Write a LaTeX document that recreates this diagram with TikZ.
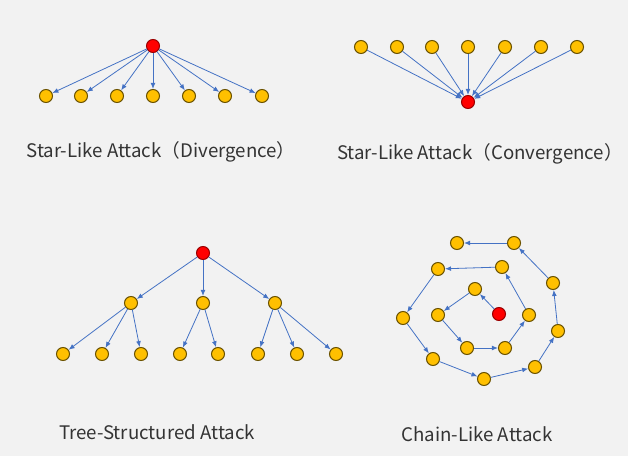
\documentclass[tikz,border=0pt]{standalone}
\usepackage{fontspec}
\newfontfamily\cjkfont{Noto Sans CJK SC}
\usetikzlibrary{arrows.meta, positioning}
\definecolor{bgGray}{HTML}{F2F2F2}
\definecolor{nodeGold}{HTML}{FFC000}
\definecolor{nodeEdge}{HTML}{6B5200}
\definecolor{rootRed}{HTML}{FF0000}
\definecolor{rootEdge}{HTML}{9A0000}
\definecolor{linkBlue}{HTML}{4472C4}
\definecolor{labelGray}{HTML}{333333}

\begin{document}
\begin{tikzpicture}[x=0.75pt, y=-0.75pt,
        leaf/.style={circle, fill=nodeGold, draw=nodeEdge, line width=0.8pt, minimum size=9.75pt, inner sep=0pt},
        root/.style={leaf, fill=rootRed, draw=rootEdge},
        link/.style={draw=linkBlue, line width=0.6pt, -{Latex[length=4.5pt, width=3.6pt]}},
        caption/.style={font=\cjkfont\fontsize{14}{16}\selectfont, text=labelGray}]
                    % Background
                    \fill[bgGray] (0,0) rectangle (628,456);
                    \useasboundingbox (0,0) rectangle (628,456);
                    % Star-like, divergence
                    \node[root] (dr) at (153,46) {};
                    \node[leaf] (d1) at (46,96) {};
                    \node[leaf] (d2) at (81,96) {};
                    \node[leaf] (d3) at (117,96) {};
                    \node[leaf] (d4) at (153,96) {};
                    \node[leaf] (d5) at (189,96) {};
                    \node[leaf] (d6) at (225,96) {};
                    \node[leaf] (d7) at (262,96) {};
                    \draw[link] (dr) -- (d1);
                    \draw[link] (dr) -- (d2);
                    \draw[link] (dr) -- (d3);
                    \draw[link] (dr) -- (d4);
                    \draw[link] (dr) -- (d5);
                    \draw[link] (dr) -- (d6);
                    \draw[link] (dr) -- (d7);
                    \node[caption] (dcap) at (161,152) {Star-Like Attack（Divergence）};
                    % Star-like, convergence
                    \node[root] (cr) at (468,102) {};
                    \node[leaf] (c1) at (361,47) {};
                    \node[leaf] (c2) at (397,47) {};
                    \node[leaf] (c3) at (432,47) {};
                    \node[leaf] (c4) at (468,47) {};
                    \node[leaf] (c5) at (505,47) {};
                    \node[leaf] (c6) at (541,47) {};
                    \node[leaf] (c7) at (577,47) {};
                    \draw[link] (c1) -- (cr);
                    \draw[link] (c2) -- (cr);
                    \draw[link] (c3) -- (cr);
                    \draw[link] (c4) -- (cr);
                    \draw[link] (c5) -- (cr);
                    \draw[link] (c6) -- (cr);
                    \draw[link] (c7) -- (cr);
                    \node[caption] (ccap) at (480,154) {Star-Like Attack（Convergence）};
                    % Tree-structured
                    \node[root] (tr) at (203,253) {};
                    \node[leaf] (ta) at (131,303) {};
                    \node[leaf] (tb) at (203,303) {};
                    \node[leaf] (tc) at (275,303) {};
                    \node[leaf] (t1) at (63,354) {};
                    \node[leaf] (t2) at (102,354) {};
                    \node[leaf] (t3) at (141,354) {};
                    \node[leaf] (t4) at (180,354) {};
                    \node[leaf] (t5) at (218,354) {};
                    \node[leaf] (t6) at (258,354) {};
                    \node[leaf] (t7) at (297,354) {};
                    \node[leaf] (t8) at (336,354) {};
                    \draw[link] (tr) -- (ta);
                    \draw[link] (tr) -- (tb);
                    \draw[link] (tr) -- (tc);
                    \draw[link] (ta) -- (t1);
                    \draw[link] (ta) -- (t2);
                    \draw[link] (ta) -- (t3);
                    \draw[link] (tb) -- (t4);
                    \draw[link] (tb) -- (t5);
                    \draw[link] (tc) -- (t6);
                    \draw[link] (tc) -- (t7);
                    \draw[link] (tc) -- (t8);
                    \node[caption] (tcap) at (157,432) {Tree-Structured Attack};
                    % Chain-like
                    \node[root] (sr) at (499,314) {};
                    \node[leaf] (s1) at (475,289) {};
                    \node[leaf] (s2) at (438,315) {};
                    \node[leaf] (s3) at (467,348) {};
                    \node[leaf] (s4) at (505,348) {};
                    \node[leaf] (s5) at (529,315) {};
                    \node[leaf] (s6) at (502,267) {};
                    \node[leaf] (s7) at (438,269) {};
                    \node[leaf] (s8) at (403,318) {};
                    \node[leaf] (s9) at (433,359) {};
                    \node[leaf] (s10) at (484,379) {};
                    \node[leaf] (s11) at (535,367) {};
                    \node[leaf] (s12) at (558,331) {};
                    \node[leaf] (s13) at (553,283) {};
                    \node[leaf] (s14) at (514,243) {};
                    \node[leaf] (s15) at (457,243) {};
                    \draw[link] (sr) -- (s1);
                    \draw[link] (s1) -- (s2);
                    \draw[link] (s2) -- (s3);
                    \draw[link] (s3) -- (s4);
                    \draw[link] (s4) -- (s5);
                    \draw[link] (s5) -- (s6);
                    \draw[link] (s6) -- (s7);
                    \draw[link] (s7) -- (s8);
                    \draw[link] (s8) -- (s9);
                    \draw[link] (s9) -- (s10);
                    \draw[link] (s10) -- (s11);
                    \draw[link] (s11) -- (s12);
                    \draw[link] (s12) -- (s13);
                    \draw[link] (s13) -- (s14);
                    \draw[link] (s14) -- (s15);
                    \node[caption] (scap) at (477,434) {Chain-Like Attack};
\end{tikzpicture}
\end{document}
